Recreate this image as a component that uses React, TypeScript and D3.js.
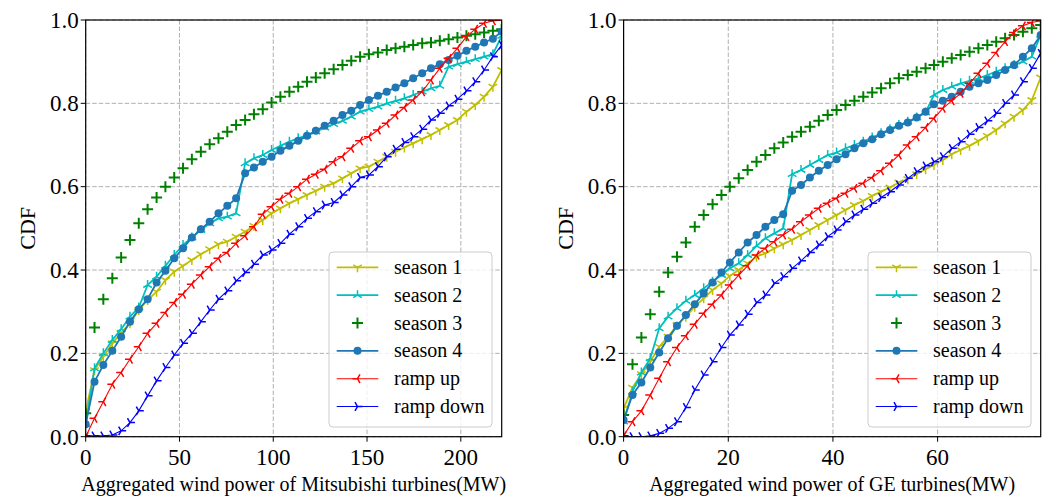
import * as d3 from 'd3';

const FONT = '"Liberation Serif", "Times New Roman", serif';

// x grids (MW) at which the CDFs were evaluated
const X_MITSU = [0, 4.7, 9.4, 14.2, 18.9, 23.6, 28.3, 33.0, 37.8, 42.5, 47.2, 51.9, 56.6, 61.4, 66.1, 70.8,
  75.5, 80.2, 85.0, 89.7, 94.4, 99.1, 103.8, 108.6, 113.3, 118.0, 122.7, 127.4, 132.2, 136.9, 141.6, 146.3,
  151.0, 155.8, 160.5, 165.2, 169.9, 174.6, 179.4, 184.1, 188.8, 193.5, 198.2, 203.0, 207.7, 212.4, 217.1, 221.8];
const X_GE = [0, 1.7, 3.4, 5.1, 6.8, 8.5, 10.2, 11.9, 13.6, 15.3, 17.0, 18.7, 20.3, 22.0, 23.7, 25.4,
  27.1, 28.8, 30.5, 32.2, 33.9, 35.6, 37.3, 39.0, 40.7, 42.4, 44.1, 45.8, 47.5, 49.2, 50.9, 52.6,
  54.3, 56.0, 57.7, 59.3, 61.0, 62.7, 64.4, 66.1, 67.8, 69.5, 71.2, 72.9, 74.6, 76.3, 78.0, 79.7];

// Mitsubishi
const MITSU_S1 = [0.06, 0.16, 0.192, 0.224, 0.25, 0.272, 0.304, 0.328, 0.348, 0.376, 0.396, 0.41, 0.424, 0.438, 0.45, 0.462,
  0.468, 0.48, 0.492, 0.506, 0.52, 0.536, 0.548, 0.56, 0.57, 0.58, 0.59, 0.6, 0.608, 0.62, 0.632, 0.644,
  0.648, 0.66, 0.672, 0.684, 0.694, 0.704, 0.714, 0.724, 0.736, 0.748, 0.76, 0.78, 0.796, 0.816, 0.84, 0.88];
const MITSU_S2 = [0.03, 0.164, 0.2, 0.232, 0.258, 0.288, 0.31, 0.364, 0.384, 0.41, 0.436, 0.46, 0.478, 0.496, 0.512, 0.524,
  0.528, 0.536, 0.656, 0.668, 0.676, 0.688, 0.698, 0.708, 0.716, 0.724, 0.732, 0.742, 0.75, 0.758, 0.768, 0.78,
  0.786, 0.792, 0.8, 0.806, 0.812, 0.82, 0.828, 0.836, 0.842, 0.888, 0.894, 0.9, 0.906, 0.912, 0.918, 0.962];
const MITSU_S3 = [0.056, 0.262, 0.33, 0.38, 0.43, 0.472, 0.512, 0.546, 0.574, 0.6, 0.622, 0.644, 0.666, 0.684, 0.702, 0.716,
  0.732, 0.748, 0.76, 0.774, 0.786, 0.802, 0.816, 0.828, 0.84, 0.852, 0.862, 0.872, 0.882, 0.892, 0.902, 0.912,
  0.918, 0.922, 0.928, 0.932, 0.936, 0.94, 0.944, 0.946, 0.95, 0.954, 0.958, 0.962, 0.966, 0.97, 0.974, 0.978];
const MITSU_S4 = [0.03, 0.132, 0.172, 0.206, 0.24, 0.276, 0.306, 0.33, 0.37, 0.398, 0.428, 0.452, 0.478, 0.498, 0.516, 0.536,
  0.554, 0.572, 0.632, 0.646, 0.66, 0.672, 0.686, 0.698, 0.71, 0.722, 0.734, 0.746, 0.758, 0.772, 0.782, 0.796,
  0.808, 0.818, 0.828, 0.838, 0.848, 0.86, 0.872, 0.884, 0.894, 0.904, 0.914, 0.926, 0.936, 0.946, 0.955, 0.972];
const MITSU_UP = [0.0, 0.044, 0.084, 0.126, 0.154, 0.186, 0.216, 0.248, 0.272, 0.298, 0.322, 0.342, 0.366, 0.388, 0.408, 0.428,
  0.442, 0.464, 0.482, 0.504, 0.534, 0.552, 0.57, 0.584, 0.6, 0.618, 0.63, 0.642, 0.66, 0.672, 0.692, 0.71,
  0.72, 0.736, 0.752, 0.772, 0.79, 0.808, 0.828, 0.856, 0.884, 0.908, 0.932, 0.96, 0.978, 0.992, 0.998, 1.0];
const MITSU_DOWN = [0.002, 0.002, 0.002, 0.004, 0.014, 0.034, 0.062, 0.098, 0.134, 0.166, 0.196, 0.224, 0.248, 0.276, 0.304, 0.33,
  0.35, 0.374, 0.394, 0.414, 0.436, 0.448, 0.464, 0.486, 0.504, 0.524, 0.54, 0.556, 0.562, 0.58, 0.6, 0.622,
  0.628, 0.648, 0.672, 0.69, 0.706, 0.72, 0.738, 0.76, 0.776, 0.794, 0.81, 0.83, 0.852, 0.88, 0.912, 0.94];

// GE
const GE_S1 = [0.068, 0.118, 0.15, 0.18, 0.216, 0.24, 0.268, 0.288, 0.312, 0.332, 0.352, 0.368, 0.386, 0.4, 0.416, 0.432,
  0.44, 0.452, 0.462, 0.472, 0.484, 0.496, 0.508, 0.52, 0.532, 0.544, 0.556, 0.566, 0.578, 0.588, 0.598, 0.61,
  0.618, 0.63, 0.642, 0.652, 0.664, 0.678, 0.688, 0.698, 0.71, 0.722, 0.736, 0.752, 0.768, 0.784, 0.808, 0.862];
const GE_S2 = [0.036, 0.108, 0.154, 0.188, 0.26, 0.288, 0.308, 0.326, 0.34, 0.356, 0.372, 0.388, 0.404, 0.416, 0.436, 0.458,
  0.476, 0.488, 0.5, 0.63, 0.64, 0.652, 0.664, 0.676, 0.682, 0.692, 0.7, 0.708, 0.718, 0.728, 0.738, 0.748,
  0.756, 0.766, 0.778, 0.82, 0.832, 0.84, 0.848, 0.854, 0.86, 0.868, 0.876, 0.884, 0.892, 0.9, 0.912, 0.964];
const GE_S3 = [0.052, 0.174, 0.238, 0.294, 0.348, 0.394, 0.432, 0.466, 0.504, 0.532, 0.558, 0.58, 0.6, 0.62, 0.64, 0.66,
  0.676, 0.692, 0.706, 0.72, 0.732, 0.744, 0.758, 0.772, 0.784, 0.796, 0.806, 0.816, 0.826, 0.836, 0.848, 0.86,
  0.868, 0.876, 0.884, 0.892, 0.9, 0.908, 0.916, 0.924, 0.932, 0.94, 0.948, 0.956, 0.964, 0.972, 0.98, 0.988];
const GE_S4 = [0.04, 0.1, 0.13, 0.166, 0.202, 0.236, 0.266, 0.292, 0.318, 0.344, 0.37, 0.394, 0.418, 0.442, 0.466, 0.484,
  0.504, 0.52, 0.534, 0.59, 0.604, 0.622, 0.638, 0.652, 0.666, 0.678, 0.692, 0.704, 0.714, 0.726, 0.736, 0.746,
  0.754, 0.766, 0.78, 0.798, 0.806, 0.816, 0.828, 0.84, 0.848, 0.856, 0.868, 0.88, 0.892, 0.912, 0.932, 0.964];
const GE_UP = [0.002, 0.036, 0.062, 0.1, 0.14, 0.18, 0.214, 0.242, 0.27, 0.296, 0.318, 0.34, 0.364, 0.388, 0.41, 0.436,
  0.452, 0.468, 0.484, 0.498, 0.516, 0.532, 0.548, 0.56, 0.572, 0.584, 0.596, 0.608, 0.622, 0.638, 0.656, 0.676,
  0.7, 0.72, 0.742, 0.764, 0.788, 0.806, 0.824, 0.848, 0.872, 0.896, 0.922, 0.948, 0.97, 0.986, 0.994, 0.998];
const GE_DOWN = [0.002, 0.0, 0.0, 0.002, 0.008, 0.02, 0.036, 0.07, 0.112, 0.148, 0.18, 0.214, 0.244, 0.268, 0.294, 0.322,
  0.34, 0.368, 0.384, 0.404, 0.422, 0.442, 0.46, 0.48, 0.496, 0.516, 0.532, 0.546, 0.56, 0.574, 0.588, 0.604,
  0.62, 0.636, 0.65, 0.66, 0.672, 0.692, 0.708, 0.726, 0.742, 0.758, 0.776, 0.8, 0.82, 0.852, 0.884, 0.92];

const SERIES_NAMES = ['season 1', 'season 2', 'season 3', 'season 4', 'ramp up', 'ramp down'];
const Y_TICKS = [0, 0.2, 0.4, 0.6, 0.8, 1.0];
const MITSU_TICKS = [0, 50, 100, 150, 200];
const GE_TICKS = [0, 20, 40, 60];

// styles, same order as SERIES_NAMES
const STYLES = [
  { color: '#bfbf00', marker: 'tri_down', lw: 1.8, line: true },
  { color: '#00bfbf', marker: 'tri_up', lw: 1.8, line: true },
  { color: '#008000', marker: 'plus', lw: 0, line: false },
  { color: '#1f77b4', marker: 'circle', lw: 1.8, line: true },
  { color: '#ff0000', marker: 'tri_left', lw: 1.1, line: true },
  { color: '#0000ff', marker: 'tri_right', lw: 1.1, line: true },
];

const markerD = (type: string, r: number) => {
  const c = 0.866 * r, h = 0.5 * r;
  switch (type) {
    case 'tri_down': return `M0,0L0,${r}M0,0L${-c},${-h}M0,0L${c},${-h}`;
    case 'tri_up': return `M0,0L0,${-r}M0,0L${-c},${h}M0,0L${c},${h}`;
    case 'tri_left': return `M0,0L${-r},0M0,0L${h},${-c}M0,0L${h},${c}`;
    case 'tri_right': return `M0,0L${r},0M0,0L${-h},${-c}M0,0L${-h},${c}`;
    case 'plus': return `M${-r},0H${r}M0,${-r}V${r}`;
    default: return '';
  }
};

const Marker = ({ type, x, y, color }: any) => {
  if (type === 'circle') return <circle cx={x} cy={y} r={4} fill={color} />;
  if (type === 'plus')
    return <path d={markerD('plus', 5.5)} transform={`translate(${x},${y})`} stroke={color} strokeWidth={2} fill="none" />;
  return <path d={markerD(type, 5)} transform={`translate(${x},${y})`} stroke={color} strokeWidth={1.5} fill="none" />;
};

const TOP = 20, BOTTOM = 436.7;

const Panel = ({ id, left, right, xMax, xs, series, xTicks, xLabel }: any) => {
  const x = d3.scaleLinear().domain([0, xMax]).range([left, right]);
  const y = d3.scaleLinear().domain([0, 1]).range([BOTTOM, TOP]);
  const line = d3.line<number>().x((_, i) => x(xs[i])).y(d => y(d));
  const grid = '#b0b0b0';
  const tickFs = 23, labFs = 20;
  const legX = right - 172.7, legY = 252;
  return (
    <g style={{ fontFamily: FONT }}>
      <defs>
        <clipPath id={id}>
          <rect x={left} y={TOP} width={right - left} height={BOTTOM - TOP} />
        </clipPath>
      </defs>
      {xTicks.map((t: number) => (
        <line key={'gx' + t} x1={x(t)} x2={x(t)} y1={TOP} y2={BOTTOM} stroke={grid} strokeWidth={1} strokeDasharray="4.5,2" />
      ))}
      {Y_TICKS.map(t => (
        <line key={'gy' + t} x1={left} x2={right} y1={y(t)} y2={y(t)} stroke={grid} strokeWidth={1} strokeDasharray="4.5,2" />
      ))}
      <g clipPath={`url(#${id})`}>
        {series.map((ys: number[], si: number) => {
          const st = STYLES[si];
          return (
            <g key={si}>
              {st.line && <path d={line(ys) || ''} fill="none" stroke={st.color} strokeWidth={st.lw} />}
              {ys.map((v, i) => (
                <Marker key={i} type={st.marker} x={x(xs[i])} y={y(v)} color={st.color} />
              ))}
            </g>
          );
        })}
      </g>
      <rect x={left} y={TOP} width={right - left} height={BOTTOM - TOP} fill="none" stroke="#000" strokeWidth={1.2} />
      {xTicks.map((t: number) => (
        <g key={'tx' + t}>
          <line x1={x(t)} x2={x(t)} y1={BOTTOM} y2={BOTTOM + 5} stroke="#000" strokeWidth={1} />
          <text x={x(t)} y={465} textAnchor="middle" fontSize={tickFs}>{t}</text>
        </g>
      ))}
      {Y_TICKS.map(t => (
        <g key={'ty' + t}>
          <line x1={left - 5} x2={left} y1={y(t)} y2={y(t)} stroke="#000" strokeWidth={1} />
          <text x={left - 7} y={y(t) + 7.8} textAnchor="end" fontSize={tickFs}>{d3.format('.1f')(t)}</text>
        </g>
      ))}
      <text x={(left + right) / 2} y={491} textAnchor="middle" fontSize={labFs}>{xLabel}</text>
      <text transform={`translate(${left - 50.5},${(TOP + BOTTOM) / 2}) rotate(-90)`} textAnchor="middle" fontSize={22}>CDF</text>
      <rect x={legX} y={legY} width={163} height={175} rx={4} fill="#fff" fillOpacity={0.8} stroke="#cccccc" strokeWidth={1} />
      {SERIES_NAMES.map((name, i) => {
        const st = STYLES[i];
        const cy = legY + 15.3 + i * 27.85;
        return (
          <g key={name}>
            {st.line && <line x1={legX + 7.7} x2={legX + 49.3} y1={cy} y2={cy} stroke={st.color} strokeWidth={st.lw} />}
            <Marker type={st.marker} x={legX + 28.5} y={cy} color={st.color} />
            <text x={legX + 65} y={cy + 6.5} fontSize={labFs}>{name}</text>
          </g>
        );
      })}
    </g>
  );
};

export default function App() {
  return (
    <svg width={1051} height={496} style={{ display: 'block', position: 'absolute', left: 0, top: 0, background: '#fff' }}>
      <rect width={1051} height={496} fill="#fff" />
      <Panel id="clipL" left={85.7} right={501.7} xMax={221.8} xs={X_MITSU}
        series={[MITSU_S1, MITSU_S2, MITSU_S3, MITSU_S4, MITSU_UP, MITSU_DOWN]}
        xTicks={MITSU_TICKS} xLabel="Aggregated wind power of Mitsubishi turbines(MW)" />
      <Panel id="clipR" left={623.6} right={1040.7} xMax={79.7} xs={X_GE}
        series={[GE_S1, GE_S2, GE_S3, GE_S4, GE_UP, GE_DOWN]}
        xTicks={GE_TICKS} xLabel="Aggregated wind power of GE turbines(MW)" />
    </svg>
  );
}
